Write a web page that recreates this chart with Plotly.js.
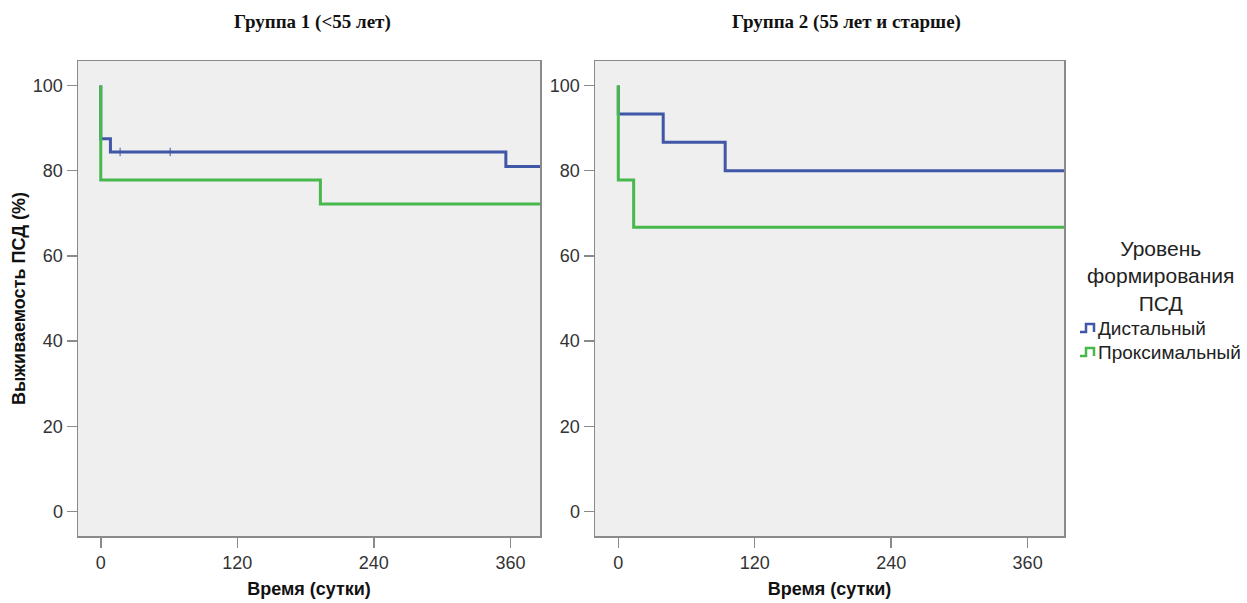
<!DOCTYPE html>
<html>
<head>
<meta charset="utf-8">
<script src="https://cdn.plot.ly/plotly-3.0.1.min.js"></script>
<style>html,body{margin:0;padding:0;background:#fff;}#chart{width:1247px;height:603px;}</style>
</head>
<body>
<div id="chart"></div>
<script>
// Kaplan–Meier step points (time in days, survival %)
const g1DistTime = [0, 0, 8.5, 356, 400];
const g1DistSurv = [100, 87.5, 84.4, 81.0, 81.0];
const g1DistCensorTime = [17, 61];
const g1DistCensorSurv = [84.4, 84.4];
const g1ProxTime = [0, 0, 193, 400];
const g1ProxSurv = [100, 77.8, 72.2, 72.2];
const g2DistTime = [0, 0, 39.5, 94, 400];
const g2DistSurv = [100, 93.3, 86.7, 80.0, 80.0];
const g2ProxTime = [0, 0, 13.5, 400];
const g2ProxSurv = [100, 77.8, 66.7, 66.7];
const seriesNames = ["Дистальный", "Проксимальный"];
const legendTitleLines = ["Уровень", "формирования", "ПСД"];
const panelTitles = ["Группа 1 (<55 лет)", "Группа 2 (55 лет и старше)"];
const xTicks = [0, 120, 240, 360];
const yTicks = [0, 20, 40, 60, 80, 100];

const BLUE = "rgb(64,86,166)";
const GREEN = "rgb(70,184,76)";
const FONT = "Liberation Sans, Arial, sans-serif";
const SERIF = "Liberation Serif, Times New Roman, serif";
const W = 1247, H = 603;
const px = v => v / W, py = v => 1 - v / H;

const traces = [
  {x: g1DistTime, y: g1DistSurv, xaxis: "x", yaxis: "y", mode: "lines", line: {shape: "hv", color: BLUE, width: 3}, name: seriesNames[0]},
  {x: g1DistCensorTime, y: g1DistCensorSurv, xaxis: "x", yaxis: "y", mode: "markers", marker: {symbol: "line-ns", size: 6, line: {color: BLUE, width: 1}}, name: seriesNames[0] + " (цензур.)"},
  {x: g2DistTime, y: g2DistSurv, xaxis: "x2", yaxis: "y2", mode: "lines", line: {shape: "hv", color: BLUE, width: 3}, name: seriesNames[0]},
  {x: g1ProxTime, y: g1ProxSurv, xaxis: "x", yaxis: "y", mode: "lines", line: {shape: "hv", color: GREEN, width: 3}, name: seriesNames[1]},
  {x: g2ProxTime, y: g2ProxSurv, xaxis: "x2", yaxis: "y2", mode: "lines", line: {shape: "hv", color: GREEN, width: 3}, name: seriesNames[1]}
];

const axisCommon = {
  showgrid: false, zeroline: false, showline: true, mirror: true,
  linecolor: "#8a8a8a", linewidth: 1.5,
  ticks: "outside", ticklen: 10, tickwidth: 1.5, tickcolor: "#8a8a8a",
  tickfont: {family: FONT, size: 18, color: "#333"}
};
const titleFont = {family: FONT, size: 18, color: "#111"};
const yDomain = [py(536), py(61)];
const xRange = [-20, 386];
const x2Range = [-20.5, 392];
const yRange = [-5.75, 105.75];

// custom step-shaped legend icons (paper coordinates)
function stepIcon(cy, color) {
  const x0 = px(1080), x1 = px(1086), x2 = px(1094);
  const yb = py(cy + 4), yt = py(cy - 4);
  return {type: "path", xref: "paper", yref: "paper",
    path: `M ${x0},${yb} L ${x1},${yb} L ${x1},${yt} L ${x2},${yt} L ${x2},${yb}`,
    line: {color: color, width: 2.5}};
}
const legendRows = [328, 352];
const legendColors = [BLUE, GREEN];

const annotations = [
  {text: "<b>" + panelTitles[0] + "</b>", xref: "paper", yref: "paper", x: px(312), y: py(22), xanchor: "center", yanchor: "middle", showarrow: false, font: {family: SERIF, size: 19, color: "#111"}},
  {text: "<b>" + panelTitles[1] + "</b>", xref: "paper", yref: "paper", x: px(846), y: py(22), xanchor: "center", yanchor: "middle", showarrow: false, font: {family: SERIF, size: 19, color: "#111"}},
  {text: legendTitleLines.join("<br>"), xref: "paper", yref: "paper", x: px(1160), y: py(276), xanchor: "center", yanchor: "middle", align: "center", showarrow: false,
   font: {family: FONT, size: 21, color: "#222"}}
];
seriesNames.forEach((n, i) => annotations.push({
  text: n, xref: "paper", yref: "paper", x: px(1096), y: py(legendRows[i]), xanchor: "left", yanchor: "middle", showarrow: false,
  font: {family: FONT, size: 19, color: "#222"}
}));

const layout = {
  width: W, height: H,
  margin: {l: 0, r: 0, t: 0, b: 0},
  paper_bgcolor: "#ffffff",
  plot_bgcolor: "#efefef",
  font: {family: FONT, color: "#222"},
  showlegend: false,
  xaxis: Object.assign({}, axisCommon, {domain: [px(78), px(540)], range: xRange, tickvals: xTicks, anchor: "y",
    title: {text: "<b>Время (сутки)</b>", font: titleFont, standoff: 10}}),
  xaxis2: Object.assign({}, axisCommon, {domain: [px(595), px(1064)], range: x2Range, tickvals: xTicks, anchor: "y2",
    title: {text: "<b>Время (сутки)</b>", font: titleFont, standoff: 10}}),
  yaxis: Object.assign({}, axisCommon, {domain: yDomain, range: yRange, tickvals: yTicks, anchor: "x",
    title: {text: "<b>Выживаемость ПСД (%)</b>", font: titleFont, standoff: 2}}),
  yaxis2: Object.assign({}, axisCommon, {domain: yDomain, range: yRange, tickvals: yTicks, anchor: "x2"}),
  shapes: legendRows.map((r, i) => stepIcon(r, legendColors[i])),
  annotations: annotations
};

Plotly.newPlot("chart", traces, layout, {displayModeBar: false, staticPlot: true});
</script>
</body>
</html>
